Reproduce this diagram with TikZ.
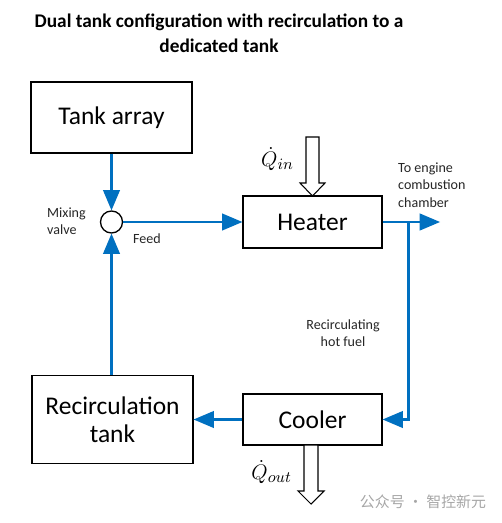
\documentclass[tikz,border=0pt]{standalone}
\usepackage{amsmath}
\usepackage{fontspec}
\setmainfont{Carlito}
\newfontfamily\cjk{Noto Sans CJK SC}
\usetikzlibrary{arrows, positioning}
\tikzset{>=triangle 45}
\definecolor{pipeblue}{RGB}{0,112,192}

\begin{document}
\begin{tikzpicture}[x=0.02cm, y=-0.02cm,
  blk/.style={draw, line width=0.75pt, fill=white, font=\fontsize{14.5}{16}\selectfont, align=center},
  pipe/.style={->, line width=1.7pt, color=pipeblue},
  lbl/.style={font=\fontsize{8}{9.8}\selectfont, color=black!85}]
\useasboundingbox (0,0) rectangle (501,523);
\node[font=\bfseries\fontsize{11}{14}\selectfont, align=center] (title) at (219,33) {Dual tank configuration with recirculation to a\\dedicated tank};

\node[blk, minimum width=3.22cm, minimum height=1.42cm] (tank) at (111.5,117.5) {Tank array};
\node[draw, circle, line width=0.75pt, minimum size=0.44cm, inner sep=0pt] (valve) at (111.5,222) {};
\node[blk, minimum width=2.78cm, minimum height=1.04cm] (heater) at (312.5,222) {Heater};
\node[blk, minimum width=2.78cm, minimum height=1.02cm] (cooler) at (312.5,419.5) {Cooler};
\node[blk, minimum width=3.22cm, minimum height=1.76cm] (rtank) at (112.5,419.5) {Recirculation\\tank};

\coordinate (branch) at (408,222);
\coordinate (engine) at (440,222);

\draw[pipe](tank)--(valve);
\draw[pipe](valve)--(heater);
\draw[pipe](rtank.north -| valve)--(valve);
\draw[pipe](heater.east)--(engine);
\draw[pipe](branch)|-(cooler.east);
\draw[pipe](cooler)--(rtank);

% heat in / heat out
\draw[line width=0.6pt, fill=white](306,137)--(319,137)--(319,183)--(325,183)--(312.5,196)--(300,183)--(306,183)--cycle;
\draw[line width=0.6pt, fill=white](304,445)--(318,445)--(318,491)--(324,491)--(311,504)--(298,491)--(304,491)--cycle;
\node[font=\fontsize{13}{15}\selectfont, anchor=east] (qin) at (300,159) {$\dot{Q}_{in}$};
\node[font=\fontsize{13}{15}\selectfont, anchor=east] (qout) at (298,472) {$\dot{Q}_{out}$};

\node[lbl, align=left, anchor=west] (mix) at (41,221) {Mixing\\valve};
\node[lbl] (feed) at (147,239) {Feed};
\node[lbl, align=left, anchor=west] (eng) at (392,185) {To engine\\combustion\\chamber};
\node[lbl, align=center] (recirc) at (343,333) {Recirculating\\hot fuel};

\node[font=\cjk\fontsize{8.5}{10}\selectfont, color=black!35] (wm) at (423,502) {公众号 · 智控新元};
\end{tikzpicture}
\end{document}
